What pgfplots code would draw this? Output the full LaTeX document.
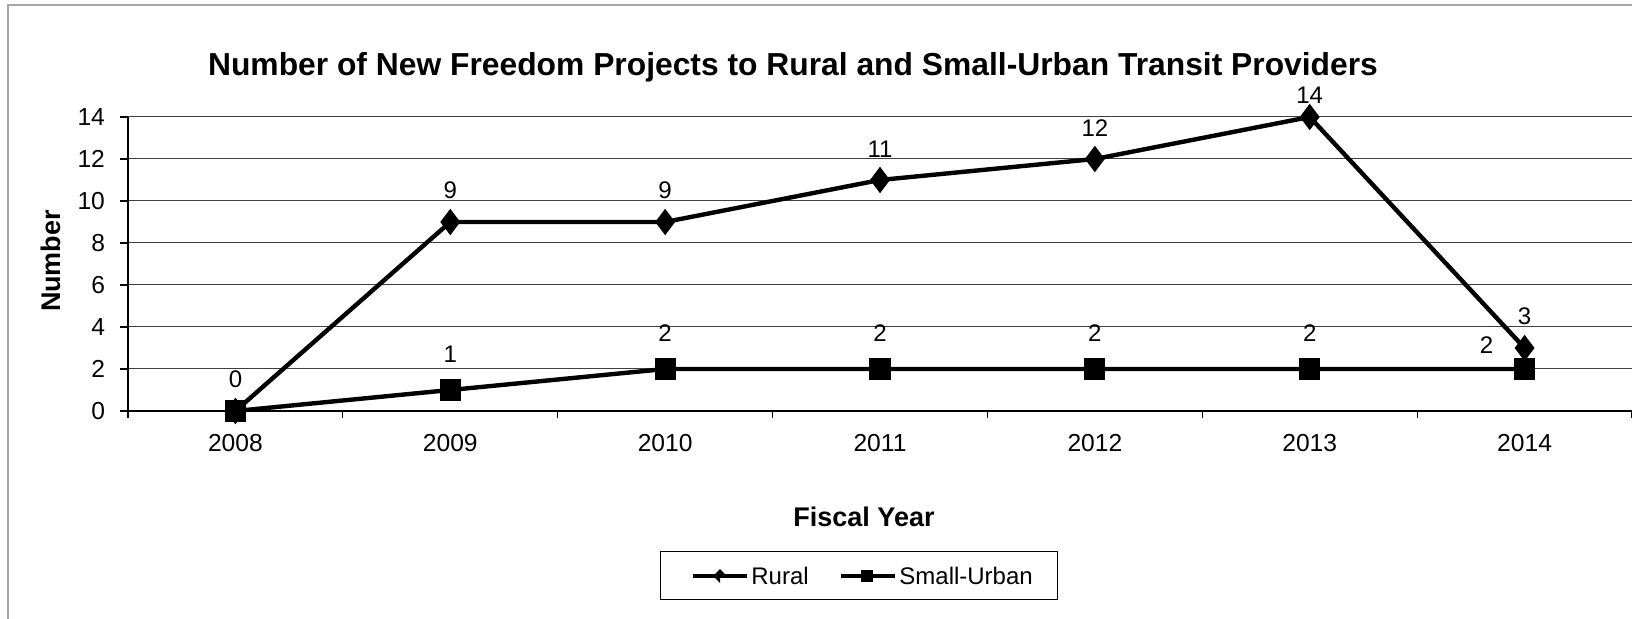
\documentclass[border=0pt]{standalone}
\usepackage{pgfplots}
\pgfplotsset{compat=1.18}
\usepackage{fontspec}
\setmainfont{Liberation Sans}
\begin{document}
\begin{tikzpicture}
\useasboundingbox (0,0) rectangle (816pt,309.5pt);
\draw[gray!70, line width=0.6pt] (4pt,0) -- (4pt,307pt) -- (816pt,307pt);
\begin{axis}[
  at={(64pt,104pt)}, anchor=south west,
  scale only axis, width=752pt, height=147pt,
  xmin=-0.5, xmax=6.5, ymin=0, ymax=14,
  ytick={0,2,...,14},
  xtick={0,...,6},
  xticklabels={2008,2009,2010,2011,2012,2013,2014},
  minor xtick={-0.5,0.5,...,6.5},
  major x tick style={draw=none},
  minor x tick style={black, line width=0.6pt},
  minor tick length=3.5pt,
  major tick length=4pt,
  tick align=outside,
  axis x line*=bottom, axis y line*=left,
  axis line style={black, line width=0.8pt, -},
  ymajorgrids, grid style={black!75, line width=0.5pt},
  y tick style={black, line width=0.6pt},
  xtick pos=bottom, ytick pos=left,
  /pgf/number format/assume math mode=true,
  tick label style={font=\fontsize{12.3}{14}\selectfont},
  xticklabel style={yshift=-4pt},
  yticklabel style={xshift=-4pt},
  clip=false,
]
\addplot[black, line width=2.2pt, mark=diamond*, mark size=4.8pt,
  mark options={solid},
  nodes near coords, point meta=explicit symbolic,
  nodes near coords style={font=\fontsize{12}{14}\selectfont, black, yshift=7pt}]
  coordinates {(0,0) [0] (1,9) [9] (2,9) [9] (3,11) [11] (4,12) [12] (5,14) [] (6,3) [3]};
\addplot[black, line width=2.2pt, mark=square*, mark size=4.2pt,
  mark options={solid},
  nodes near coords, point meta=explicit symbolic,
  nodes near coords style={font=\fontsize{12}{14}\selectfont, black, yshift=9.5pt}]
  coordinates {(0,0) [] (1,1) [1] (2,2) [2] (3,2) [2] (4,2) [2] (5,2) [2] (6,2) []};
\node[font=\fontsize{12}{14}\selectfont] at (axis cs:5,14) [yshift=11pt] {14};
\node[font=\fontsize{12}{14}\selectfont] at (axis cs:6,2) [xshift=-19pt, yshift=12pt] {2};
\end{axis}
\node[font=\bfseries\fontsize{15.9}{19}\selectfont] at (396.5pt,276pt) {Number of New Freedom Projects to Rural and Small-Urban Transit Providers};
\node[font=\bfseries\fontsize{13.5}{16}\selectfont, rotate=90] at (25.5pt,179pt) {Number};
\node[font=\bfseries\fontsize{13.5}{16}\selectfont] at (432pt,51pt) {Fiscal Year};
\draw[black, line width=0.5pt] (330pt,9.5pt) rectangle (528.5pt,33.5pt);
\draw[black, line width=1.8pt] (346.5pt,21.5pt) -- (373.5pt,21.5pt);
\fill[black] (360pt,21.5pt) -- ++(3.4pt,0) -- ++(-3.4pt,3.4pt) -- ++(-3.4pt,-3.4pt) -- ++(3.4pt,-3.4pt) -- cycle;
\node[anchor=west, font=\fontsize{12}{14}\selectfont, inner sep=0pt] at (375.5pt,21.5pt) {Rural};
\draw[black, line width=1.8pt] (420.5pt,21.5pt) -- (447.5pt,21.5pt);
\fill[black] (430.5pt,18.5pt) rectangle (436.5pt,24.5pt);
\node[anchor=west, font=\fontsize{12}{14}\selectfont, inner sep=0pt] at (449.5pt,21.5pt) {Small-Urban};
\end{tikzpicture}
\end{document}
